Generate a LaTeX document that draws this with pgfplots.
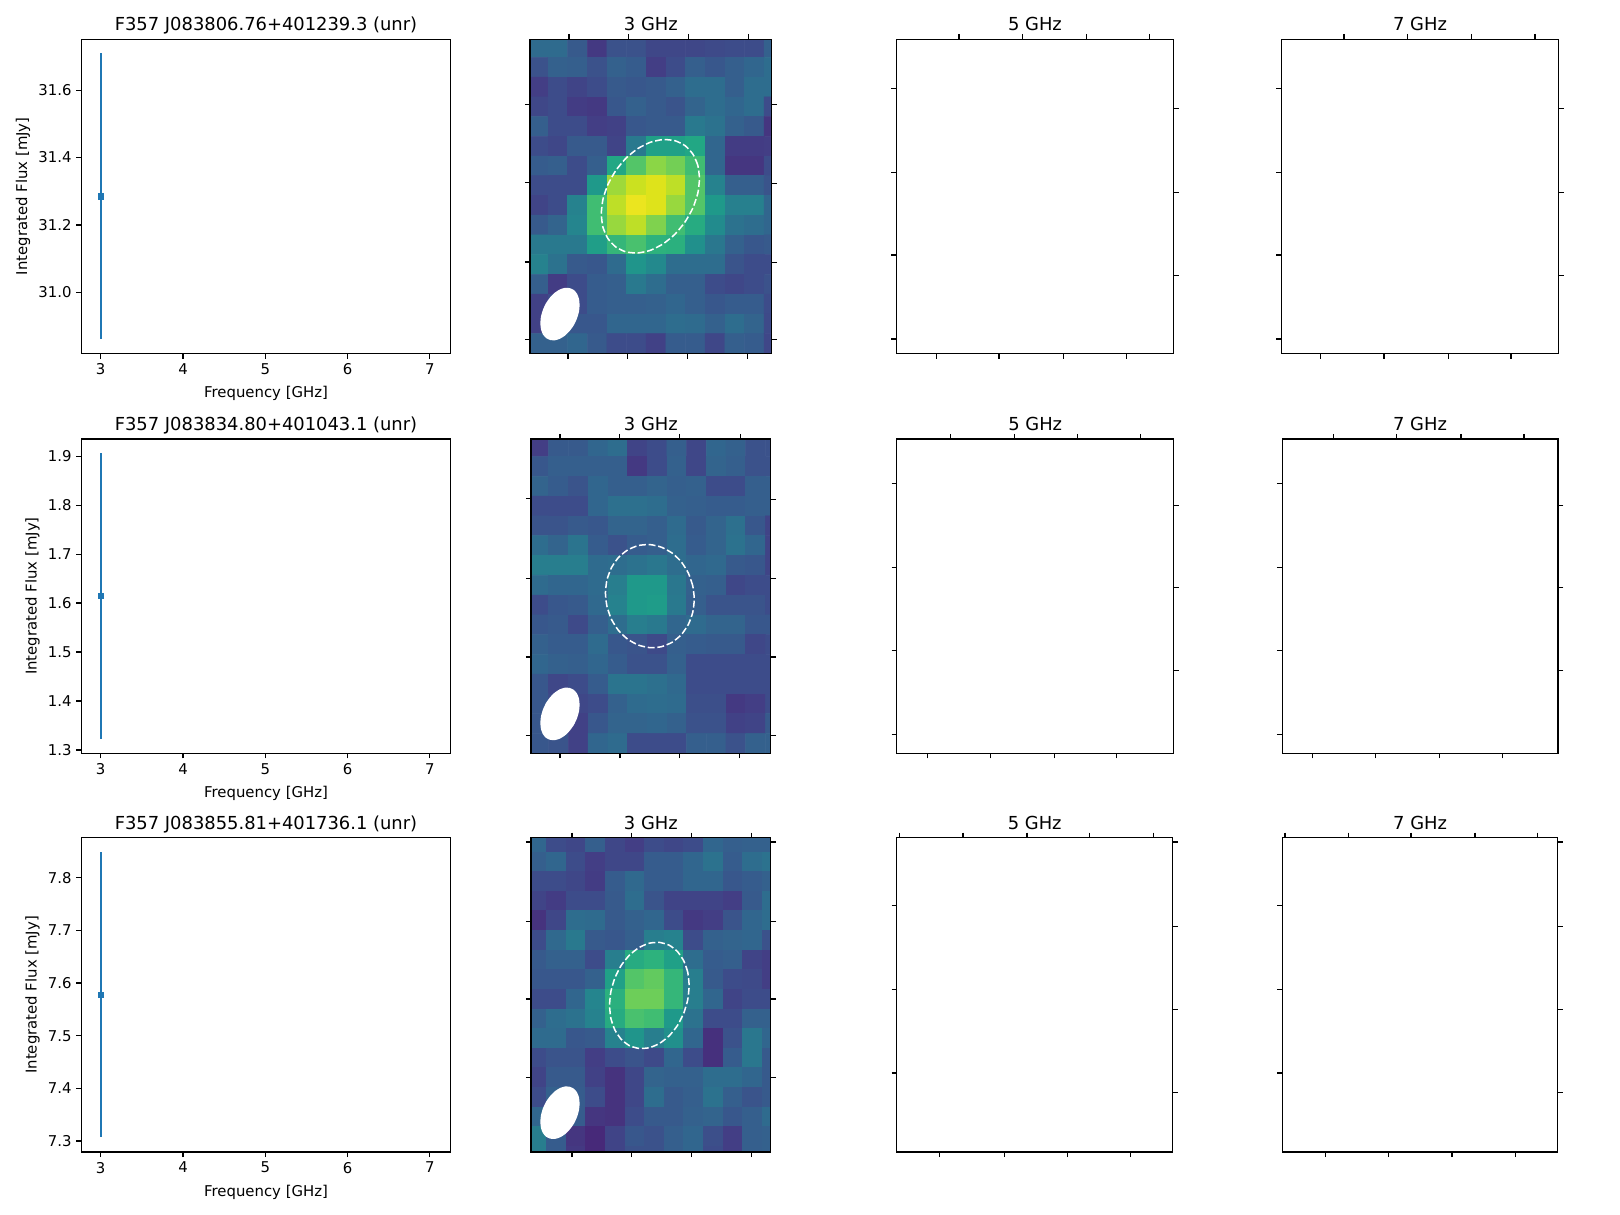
\documentclass[border=0pt]{standalone}
\usepackage{fontspec}
\setmainfont{DejaVu Sans}
\usepackage{pgfplots}
\pgfplotsset{compat=1.18}

\definecolor{mplblue}{HTML}{1F77B4}

% layout numbers are picture units, 1 unit = 0.75pt, y counted from the top
\pgfplotsset{
  pnl/.style n args={4}{
    at={({#1*0.75pt},{(1176-#4)*0.75pt})}, anchor=south west,
    width={(#2-#1)*0.75pt}, height={(#4-#3)*0.75pt}, scale only axis,
    axis line style={line width=0.86bp},
  },
  title style={font=\fontsize{13}{15}\selectfont, yshift=-3.5pt},
  tick label style={font=\fontsize{10.8}{13}\selectfont},
  label style={font=\fontsize{10.8}{13}\selectfont},
  tick style={black, line width=0.86bp},
  major tick length=3.8bp,
  tick align=outside,
  heatax/.style={
    colormap/viridis, point meta min=-0.04, point meta max=1,
    enlargelimits=false, ticks=none, y dir=reverse,
  },
  heatcells/.style={
    matrix plot*, point meta=explicit, mesh/cols=13, forget plot,
  },
  lay/.style={hide axis, enlargelimits=false, y dir=reverse, clip=true},
  dashring/.style={white, dash pattern=on 5pt off 2pt, line width=1.1pt, smooth cycle, tension=0.34, forget plot},
  beamfill/.style={fill=white, draw=none, smooth cycle, tension=0.34, forget plot},
}

% #1 x0 #2 x1 #3 y0 #4 y1 #5 title #6 top #7 bottom #8 left #9 right
% y runs downwards here, so "lower" is the upper edge on the page
\newcommand{\tickframe}[9]{
  \begin{axis}[pnl={#1}{#2}{#3}{#4}, title={#5},
      xmin=#1, xmax=#2, ymin=#3, ymax=#4, y dir=reverse,
      xtick={#6}, ytick={#8}, xticklabel=\empty, yticklabel=\empty,
      xtick pos=upper, ytick pos=lower]
  \end{axis}
  \begin{axis}[pnl={#1}{#2}{#3}{#4},
      xmin=#1, xmax=#2, ymin=#3, ymax=#4, y dir=reverse,
      xtick={#7}, ytick={#9}, xticklabel=\empty, yticklabel=\empty,
      xtick pos=lower, ytick pos=upper]
  \end{axis}
}

% #1 y0 #2 y1 #3 title #4 ymin #5 ymax #6 yticks #7 flux #8 error
\newcommand{\fluxpanel}[8]{
  \begin{axis}[pnl={79}{436}{#1}{#2}, title={#3}, title style={yshift=-2.5pt},
      xmin=2.768, xmax=7.251, ymin=#4, ymax=#5,
      xtick={3,4,5,6,7}, ytick={#6},
      xtick pos=lower, ytick pos=lower,
      yticklabel style={/pgf/number format/fixed, /pgf/number format/fixed zerofill,
        /pgf/number format/precision=1},
      /pgf/number format/assume math mode=true,
      xlabel={Frequency [GHz]}, ylabel={Integrated Flux [mJy]},
      xlabel style={yshift=-1.5pt}, ylabel style={yshift=-1pt},
      ]
    \addplot[only marks, mark=square*, mark size=1.9pt, color=mplblue, forget plot,
      error bars/.cd, y dir=both, y explicit, error mark=none,
      error bar style={line width=1.6bp, color=mplblue}]
      table[row sep=\\, header=false, x index=0, y index=1, y error index=2] {3 #7 #8\\};
  \end{axis}
}

\begin{document}
\begin{tikzpicture}
\path[use as bounding box] (0,0) rectangle (1176pt,882pt);

% ---- first column, spectra
\fluxpanel{38}{342}{F357 J083806.76+401239.3 (unr)}{30.819}{31.751}{31.0,31.2,31.4,31.6}{31.285}{0.424}
\fluxpanel{425}{729}{F357 J083834.80+401043.1 (unr)}{1.2935}{1.935}{1.3,1.4,1.5,1.6,1.7,1.8,1.9}{1.6145}{0.2915}
\fluxpanel{811}{1115}{F357 J083855.81+401736.1 (unr)}{7.279}{7.876}{7.3,7.4,7.5,7.6,7.7,7.8}{7.578}{0.2715}

% ---- row 1, 3 GHz
\begin{axis}[pnl={513}{747}{38}{342}, heatax, xmin=-0.415, xmax=11.89, ymin=-0.42, ymax=15.5]
\addplot[heatcells] table[row sep=\\, header=false, meta index=0,
    x expr={mod(\coordindex,13)}, y expr={floor((\coordindex+0.5)/13)}] {
.32\\.32\\.25\\.13\\.22\\.22\\.18\\.18\\.18\\.19\\.20\\.20\\.28\\
.22\\.28\\.27\\.22\\.28\\.26\\.15\\.20\\.27\\.24\\.27\\.30\\.33\\
.15\\.20\\.17\\.20\\.25\\.24\\.25\\.28\\.33\\.33\\.27\\.33\\.33\\
.18\\.20\\.14\\.13\\.24\\.28\\.25\\.23\\.29\\.33\\.30\\.33\\.20\\
.27\\.20\\.20\\.15\\.16\\.24\\.25\\.25\\.38\\.35\\.28\\.25\\.12\\
.20\\.18\\.25\\.25\\.17\\.38\\.55\\.55\\.58\\.30\\.14\\.14\\.15\\
.26\\.27\\.20\\.27\\.58\\.72\\.82\\.78\\.68\\.30\\.12\\.12\\.20\\
.20\\.20\\.20\\.52\\.85\\.92\\.95\\.90\\.72\\.42\\.27\\.27\\.23\\
.17\\.20\\.42\\.68\\.90\\.97\\.95\\.84\\.72\\.52\\.41\\.41\\.30\\
.25\\.29\\.43\\.68\\.84\\.90\\.80\\.68\\.60\\.46\\.35\\.33\\.30\\
.38\\.38\\.38\\.54\\.65\\.70\\.63\\.62\\.48\\.37\\.28\\.24\\.25\\
.42\\.35\\.25\\.24\\.32\\.50\\.45\\.33\\.33\\.33\\.23\\.20\\.20\\
.27\\.14\\.20\\.26\\.27\\.38\\.33\\.27\\.27\\.20\\.18\\.20\\.22\\
.16\\.20\\.20\\.26\\.27\\.27\\.28\\.30\\.27\\.24\\.26\\.26\\.20\\
.16\\.20\\.24\\.24\\.30\\.30\\.30\\.33\\.32\\.28\\.33\\.29\\.19\\
.28\\.28\\.30\\.25\\.20\\.20\\.16\\.26\\.26\\.18\\.27\\.26\\.18\\
};
\end{axis}
\begin{axis}[pnl={513}{747}{38}{342}, lay, xmin=513, xmax=747, ymin=38, ymax=342]
\addplot[dashring] coordinates {(677,173) (675.4,160) (670.6,149.1) (663.1,141) (653.3,136.2) (641.8,135.1)
  (629.5,137.7) (617.2,143.9) (605.8,153.2) (596,165.1) (588.4,178.6) (583.6,192.9)
  (582,207) (583.6,220) (588.4,230.9) (595.9,239) (605.7,243.8) (617.2,244.9)
  (629.5,242.3) (641.8,236.1) (653.2,226.8) (663,214.9) (670.6,201.4) (675.4,187.1)};
\addplot[beamfill] coordinates {(561,295.1) (560.4,289.2) (558.5,284.3) (555.5,280.8) (551.5,278.9) (546.9,278.6)
  (542,280.1) (537.1,283.2) (532.5,287.8) (528.5,293.4) (525.5,299.8) (523.6,306.4)
  (523,312.9) (523.6,318.8) (525.5,323.7) (528.5,327.2) (532.5,329.1) (537.1,329.4)
  (542,327.9) (546.9,324.8) (551.5,320.2) (555.5,314.6) (558.5,308.2) (560.4,301.6)};
\end{axis}
\tickframe{513}{747}{38}{342}{3 GHz}{550.7,608.6,666.6,724.5}{549.7,607.6,665.6,723.5}{101,177,253.6,329}{101,177.6,254,329}

% ---- row 2, 3 GHz
\begin{axis}[pnl={514}{746}{425}{729}, heatax, xmin=-0.394, xmax=11.77, ymin=-0.39, ymax=15.5]
\addplot[heatcells] table[row sep=\\, header=false, meta index=0,
    x expr={mod(\coordindex,13)}, y expr={floor((\coordindex+0.5)/13)}] {
.15\\.25\\.25\\.30\\.33\\.17\\.20\\.27\\.18\\.30\\.28\\.22\\.22\\
.24\\.27\\.27\\.27\\.27\\.13\\.20\\.28\\.18\\.29\\.27\\.22\\.22\\
.29\\.26\\.23\\.30\\.27\\.27\\.29\\.27\\.28\\.20\\.20\\.27\\.27\\
.20\\.20\\.20\\.30\\.34\\.34\\.33\\.28\\.27\\.26\\.26\\.27\\.27\\
.23\\.23\\.25\\.24\\.29\\.29\\.27\\.32\\.25\\.29\\.34\\.24\\.17\\
.33\\.29\\.36\\.26\\.22\\.26\\.27\\.33\\.26\\.29\\.35\\.30\\.17\\
.40\\.40\\.40\\.32\\.33\\.35\\.37\\.33\\.30\\.31\\.25\\.24\\.17\\
.32\\.30\\.30\\.32\\.40\\.52\\.52\\.37\\.28\\.27\\.18\\.20\\.20\\
.20\\.24\\.25\\.31\\.42\\.52\\.53\\.38\\.27\\.23\\.23\\.23\\.20\\
.24\\.25\\.19\\.27\\.33\\.40\\.38\\.30\\.32\\.29\\.29\\.24\\.24\\
.28\\.26\\.26\\.32\\.24\\.23\\.19\\.27\\.26\\.25\\.25\\.18\\.20\\
.30\\.28\\.27\\.30\\.26\\.22\\.22\\.28\\.20\\.20\\.20\\.20\\.20\\
.24\\.18\\.20\\.26\\.36\\.36\\.34\\.31\\.20\\.20\\.20\\.20\\.20\\
.24\\.20\\.18\\.20\\.28\\.32\\.33\\.32\\.21\\.21\\.13\\.15\\.20\\
.24\\.22\\.16\\.24\\.29\\.29\\.30\\.28\\.22\\.22\\.16\\.17\\.25\\
.24\\.23\\.16\\.30\\.32\\.20\\.20\\.20\\.27\\.27\\.22\\.28\\.28\\
};
\end{axis}
\begin{axis}[pnl={514}{746}{425}{729}, lay, xmin=514, xmax=746, ymin=425, ymax=729]
\addplot[dashring] coordinates {(672,580) (670.5,567) (666.2,554.6) (659.4,543.8) (650.5,535.3) (640.1,529.6)
  (629,527.1) (617.9,528) (607.5,532.3) (598.6,539.6) (591.8,549.5) (587.5,561.2)
  (586,574) (587.5,587) (591.8,599.4) (598.6,610.2) (607.5,618.7) (617.9,624.4)
  (629,626.9) (640.1,626) (650.5,621.7) (659.4,614.4) (666.2,604.5) (670.5,592.8)};
\addplot[beamfill] coordinates {(561,682.1) (560.4,676.2) (558.5,671.3) (555.5,667.8) (551.5,665.9) (546.9,665.6)
  (542,667.1) (537.1,670.2) (532.5,674.8) (528.5,680.4) (525.5,686.8) (523.6,693.4)
  (523,699.9) (523.6,705.8) (525.5,710.7) (528.5,714.2) (532.5,716.1) (537.1,716.4)
  (542,714.9) (546.9,711.8) (551.5,707.2) (555.5,701.6) (558.5,695.2) (560.4,688.6)};
\end{axis}
\tickframe{514}{746}{425}{729}{3 GHz}{542,600,658,716.6}{542,600,658,716}{482.8,559.6,636,711.6}{483.7,559.6,636,711.6}

% ---- row 3, 3 GHz
\begin{axis}[pnl={514}{746}{811}{1115}, heatax, xmin=-0.28, xmax=11.94, ymin=-0.21, ymax=15.79]
\addplot[heatcells] table[row sep=\\, header=false, meta index=0,
    x expr={mod(\coordindex,13)}, y expr={floor((\coordindex+0.5)/13)}] {
.30\\.20\\.18\\.27\\.18\\.15\\.20\\.18\\.20\\.30\\.27\\.28\\.28\\
.27\\.30\\.20\\.15\\.18\\.18\\.26\\.26\\.30\\.35\\.26\\.33\\.35\\
.20\\.20\\.18\\.14\\.26\\.31\\.26\\.26\\.30\\.30\\.24\\.26\\.28\\
.17\\.14\\.20\\.20\\.25\\.33\\.23\\.17\\.17\\.17\\.15\\.25\\.33\\
.11\\.18\\.33\\.32\\.25\\.28\\.30\\.20\\.13\\.15\\.23\\.30\\.33\\
.20\\.31\\.38\\.25\\.24\\.27\\.40\\.42\\.20\\.28\\.29\\.30\\.22\\
.25\\.28\\.28\\.20\\.40\\.60\\.63\\.55\\.33\\.26\\.27\\.17\\.15\\
.24\\.24\\.24\\.28\\.55\\.72\\.75\\.65\\.40\\.25\\.20\\.19\\.15\\
.20\\.20\\.30\\.43\\.62\\.77\\.77\\.65\\.40\\.30\\.17\\.20\\.20\\
.28\\.33\\.35\\.42\\.60\\.70\\.68\\.52\\.35\\.20\\.20\\.28\\.28\\
.32\\.32\\.24\\.25\\.42\\.50\\.40\\.48\\.30\\.10\\.22\\.37\\.30\\
.20\\.23\\.23\\.15\\.20\\.23\\.19\\.30\\.20\\.10\\.26\\.37\\.25\\
.17\\.25\\.25\\.16\\.11\\.18\\.29\\.28\\.28\\.33\\.33\\.30\\.25\\
.20\\.28\\.26\\.20\\.11\\.18\\.33\\.25\\.27\\.35\\.27\\.23\\.25\\
.30\\.30\\.26\\.12\\.11\\.20\\.25\\.25\\.28\\.29\\.24\\.27\\.32\\
.40\\.26\\.12\\.08\\.17\\.24\\.22\\.27\\.30\\.21\\.15\\.27\\.28\\
.40\\.26\\.13\\.08\\.17\\.22\\.22\\.27\\.30\\.20\\.15\\.27\\.28\\
};
\end{axis}
\begin{axis}[pnl={514}{746}{811}{1115}, lay, xmin=514, xmax=746, ymin=811, ymax=1115]
\addplot[dashring] coordinates {(667,954) (665.7,941.2) (661.8,930) (655.7,921) (647.8,914.9) (638.5,912.2)
  (628.5,912.9) (618.6,917.1) (609.3,924.4) (601.3,934.4) (595.2,946.4) (591.3,959.6)
  (590,973) (591.3,985.8) (595.2,997) (601.3,1006) (609.2,1012.1) (618.5,1014.8)
  (628.5,1014.1) (638.4,1009.9) (647.7,1002.6) (655.7,992.6) (661.8,980.6) (665.7,967.4)};
\addplot[beamfill] coordinates {(561,1068.1) (560.4,1062.2) (558.5,1057.3) (555.5,1053.8) (551.5,1051.9) (546.9,1051.6)
  (542,1053.1) (537.1,1056.2) (532.5,1060.8) (528.5,1066.4) (525.5,1072.8) (523.6,1079.4)
  (523,1085.9) (523.6,1091.8) (525.5,1096.7) (528.5,1100.2) (532.5,1102.1) (537.1,1102.4)
  (542,1100.9) (546.9,1097.8) (551.5,1093.2) (555.5,1087.6) (558.5,1081.2) (560.4,1074.6)};
\end{axis}
\tickframe{514}{746}{811}{1115}{3 GHz}{553.6,611.6,669.6,727.5}{553.6,611.6,669.6,727.5}{814.9,891.7,966.9,1043.3}{814.9,891.7,966.9,1043.3}

% ---- empty 5 and 7 GHz panels
\tickframe{867.5}{1136}{38}{342}{5 GHz}{928.2,989.9,1051.5,1112.7}{906.3,967,1029.1,1090.3}{85.4,166.6,246.9,328.2}{105.4,186.6,266.9}
\tickframe{1240.5}{1508.5}{38}{342}{7 GHz}{1300.8,1362.4,1424,1485.7}{1278,1339.6,1401.7,1462.4}{85.4,166.6,246.9,328.2}{105.4,186.6,266.9}
\tickframe{868}{1136}{425}{729}{5 GHz}{920,982,1043,1104}{898,959,1021,1081}{468,549,630,711}{489,569,649}
\tickframe{1241}{1508}{425}{729}{7 GHz}{1291,1352,1414,1475}{1270,1331,1393,1454}{468,549,630,711}{489,569,649}
\tickframe{868}{1135}{811}{1115}{5 GHz}{870.7,932.1,994,1054.9,1116.7}{909.7,972,1032.9,1094.3}{876.5,957.8,1038.5}{814.9,896.5,976.9,1057.2}
\tickframe{1241.5}{1507.5}{811}{1115}{7 GHz}{1243.8,1304.9,1365.6,1427.7,1488.4}{1282.6,1343.7,1405.3,1466.5}{876.5,957.8,1038.5}{814.9,896.5,976.9,1057.2}

\end{tikzpicture}
\end{document}
